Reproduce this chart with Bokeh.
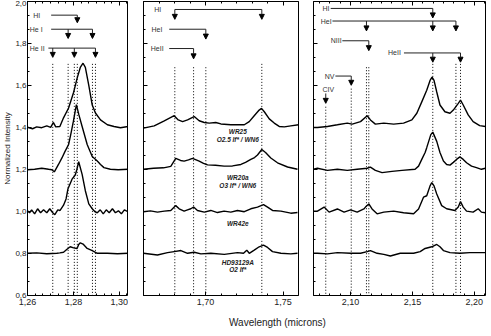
from bokeh.plotting import figure
from bokeh.models import (ColumnDataSource, Arrow, NormalHead, LinearAxis, FixedTicker,
                          CustomJSTickFormatter, Range1d, Div)
from bokeh.layouts import row, column
from bokeh.core.properties import value
from bokeh.embed import file_html
from bokeh.resources import INLINE

FONT = "Liberation Sans"

# ---------------- data ----------------
y_ticks = [0.6, 0.8, 1.0, 1.2, 1.4, 1.6, 1.8, 2.0]
p1_xticks = [1.26, 1.28, 1.30]
p2_xticks = [1.70, 1.75]
p3_xticks = [2.10, 2.15, 2.20]

# Panel 1 (Pa-beta region)
p1_wr25_wl = [1.2600, 1.2622, 1.2640, 1.2662, 1.2684, 1.2701, 1.2713, 1.2723, 1.2741, 1.2757, 1.2779, 1.2801,
              1.2816, 1.2830, 1.2842, 1.2852, 1.2867, 1.2882, 1.2896, 1.2918, 1.2948, 1.2977, 1.3005, 1.3040]
p1_wr25_fl = [1.401, 1.394, 1.403, 1.399, 1.408, 1.401, 1.424, 1.403, 1.405, 1.446, 1.493, 1.568,
              1.634, 1.686, 1.706, 1.686, 1.601, 1.507, 1.469, 1.436, 1.413, 1.405, 1.399, 1.405]
p1_wr20a_wl = [1.2600, 1.2631, 1.2662, 1.2692, 1.2706, 1.2717, 1.2735, 1.2750, 1.2763, 1.2779, 1.2789, 1.2800,
               1.2813, 1.2824, 1.2838, 1.2860, 1.2882, 1.2904, 1.2918, 1.2933, 1.2961, 1.2995, 1.3040]
p1_wr20a_fl = [1.199, 1.201, 1.206, 1.201, 1.199, 1.189, 1.224, 1.255, 1.285, 1.319, 1.370, 1.430,
               1.509, 1.460, 1.405, 1.319, 1.262, 1.240, 1.224, 1.209, 1.201, 1.199, 1.201]
p1_wr42e_wl = [1.2600, 1.2609, 1.2618, 1.2631, 1.2644, 1.2657, 1.2670, 1.2684, 1.2697, 1.2710, 1.2719, 1.2732,
               1.2742, 1.2757, 1.2768, 1.2776, 1.2794, 1.2808, 1.2815, 1.2823, 1.2838, 1.2852, 1.2867, 1.2882,
               1.2893, 1.2904, 1.2917, 1.2930, 1.2943, 1.2956, 1.2970, 1.2983, 1.2996, 1.3009, 1.3022, 1.3040]
p1_wr42e_fl = [1.003, 0.994, 1.008, 0.989, 1.013, 0.994, 1.008, 0.994, 1.013, 0.994, 0.985, 1.008,
               1.005, 1.030, 1.060, 1.107, 1.154, 1.174, 1.200, 1.237, 1.177, 1.099, 1.036, 1.013,
               1.000, 0.994, 1.008, 0.989, 1.008, 0.994, 1.013, 0.994, 1.003, 0.989, 1.008, 0.998]
p1_hd_wl = [1.2600, 1.2640, 1.2684, 1.2728, 1.2741, 1.2757, 1.2772, 1.2786, 1.2801, 1.2816, 1.2823, 1.2830,
            1.2842, 1.2860, 1.2882, 1.2904, 1.2948, 1.2992, 1.3040]
p1_hd_fl = [0.801, 0.803, 0.799, 0.801, 0.803, 0.806, 0.820, 0.832, 0.827, 0.824, 0.843, 0.851,
            0.845, 0.824, 0.814, 0.801, 0.801, 0.799, 0.801]

# Panel 2 (1.66-1.76 micron region)
p2_wr25_wl = [1.6600, 1.6669, 1.6734, 1.6798, 1.6824, 1.6852, 1.6884, 1.6927, 1.6959, 1.6992, 1.7024, 1.7066,
              1.7099, 1.7163, 1.7250, 1.7282, 1.7314, 1.7346, 1.7361, 1.7379, 1.7411, 1.7443, 1.7475, 1.7508,
              1.7550, 1.7600]
p2_wr25_fl = [1.397, 1.408, 1.432, 1.456, 1.436, 1.428, 1.436, 1.452, 1.432, 1.424, 1.421, 1.424,
              1.417, 1.413, 1.413, 1.428, 1.456, 1.483, 1.491, 1.475, 1.441, 1.421, 1.405, 1.403,
              1.408, 1.413]
p2_wr20a_wl = [1.6600, 1.6665, 1.6729, 1.6776, 1.6808, 1.6839, 1.6862, 1.6890, 1.6916, 1.6959, 1.6987, 1.7013,
               1.7064, 1.7120, 1.7174, 1.7228, 1.7258, 1.7292, 1.7316, 1.7335, 1.7363, 1.7387, 1.7421, 1.7464,
               1.7529, 1.7593]
p2_wr20a_fl = [1.201, 1.206, 1.208, 1.215, 1.253, 1.243, 1.240, 1.246, 1.253, 1.240, 1.229, 1.222,
               1.220, 1.216, 1.217, 1.224, 1.234, 1.248, 1.257, 1.269, 1.295, 1.281, 1.255, 1.232,
               1.212, 1.201]
p2_wr42e_wl = [1.6600, 1.6645, 1.6690, 1.6734, 1.6776, 1.6808, 1.6830, 1.6862, 1.6884, 1.6905, 1.6923, 1.6948,
               1.6992, 1.7034, 1.7077, 1.7120, 1.7163, 1.7206, 1.7250, 1.7292, 1.7335, 1.7374, 1.7400, 1.7432,
               1.7486, 1.7550, 1.7593]
p2_wr42e_fl = [0.999, 1.003, 0.997, 1.002, 1.005, 1.028, 1.013, 1.002, 1.008, 1.013, 1.021, 1.005,
               0.997, 1.005, 0.995, 1.002, 0.997, 1.005, 0.999, 1.013, 1.021, 1.033, 1.021, 1.005,
               1.002, 0.992, 0.995]
p2_hd_wl = [1.6600, 1.6690, 1.6755, 1.6798, 1.6841, 1.6884, 1.6927, 1.6970, 1.7034, 1.7121, 1.7206, 1.7245,
            1.7266, 1.7282, 1.7314, 1.7346, 1.7374, 1.7400, 1.7432, 1.7486, 1.7550, 1.7593]
p2_hd_fl = [0.801, 0.793, 0.804, 0.809, 0.814, 0.801, 0.806, 0.798, 0.801, 0.796, 0.804, 0.801,
            0.816, 0.801, 0.816, 0.832, 0.840, 0.829, 0.809, 0.801, 0.798, 0.801]

# Panel 3 (Br-gamma region)
p3_wr25_wl = [2.0700, 2.0732, 2.0812, 2.0893, 2.0973, 2.1013, 2.1080, 2.1134, 2.1160, 2.1200, 2.1268, 2.1348,
              2.1428, 2.1495, 2.1535, 2.1575, 2.1615, 2.1642, 2.1658, 2.1674, 2.1696, 2.1722, 2.1762, 2.1803,
              2.1830, 2.1870, 2.1888, 2.1910, 2.1950, 2.1990, 2.2043, 2.2089]
p3_wr25_fl = [1.400, 1.400, 1.405, 1.413, 1.421, 1.416, 1.428, 1.456, 1.436, 1.416, 1.421, 1.416,
              1.421, 1.436, 1.468, 1.522, 1.577, 1.624, 1.640, 1.624, 1.569, 1.507, 1.475, 1.468,
              1.483, 1.515, 1.530, 1.507, 1.460, 1.428, 1.409, 1.405]
p3_wr20a_wl = [2.0700, 2.0732, 2.0812, 2.0893, 2.0973, 2.1053, 2.1134, 2.1160, 2.1200, 2.1254, 2.1334, 2.1415,
               2.1521, 2.1549, 2.1575, 2.1602, 2.1615, 2.1631, 2.1648, 2.1664, 2.1696, 2.1722, 2.1750, 2.1776,
               2.1803, 2.1830, 2.1856, 2.1883, 2.1910, 2.1937, 2.1977, 2.2017, 2.2057, 2.2089]
p3_wr20a_fl = [1.201, 1.206, 1.196, 1.201, 1.196, 1.201, 1.206, 1.211, 1.196, 1.185, 1.191, 1.196,
               1.201, 1.216, 1.248, 1.281, 1.304, 1.334, 1.366, 1.378, 1.334, 1.281, 1.240, 1.224,
               1.221, 1.234, 1.248, 1.260, 1.248, 1.232, 1.216, 1.209, 1.201, 1.206]
p3_wr42e_wl = [2.0700, 2.0732, 2.0786, 2.0826, 2.0893, 2.0947, 2.1000, 2.1053, 2.1107, 2.1120, 2.1147, 2.1173,
               2.1214, 2.1268, 2.1348, 2.1428, 2.1509, 2.1549, 2.1589, 2.1615, 2.1642, 2.1656, 2.1674, 2.1696,
               2.1736, 2.1776, 2.1843, 2.1870, 2.1888, 2.1910, 2.1937, 2.1990, 2.2031, 2.2057, 2.2089]
p3_wr42e_fl = [1.002, 1.002, 1.021, 0.997, 1.012, 0.997, 1.008, 0.997, 1.012, 1.021, 1.036, 1.012,
               0.989, 0.997, 1.002, 0.994, 0.989, 1.012, 1.068, 1.075, 1.122, 1.138, 1.122, 1.083,
               1.028, 1.013, 1.005, 1.021, 1.047, 1.021, 1.002, 0.997, 1.013, 0.997, 0.994]
p3_hd_wl = [2.0700, 2.0732, 2.0812, 2.0893, 2.1000, 2.1080, 2.1134, 2.1160, 2.1214, 2.1268, 2.1321, 2.1401,
            2.1509, 2.1562, 2.1602, 2.1656, 2.1696, 2.1722, 2.1750, 2.1803, 2.1883, 2.1963, 2.2089]
p3_hd_fl = [0.801, 0.801, 0.798, 0.804, 0.801, 0.801, 0.809, 0.814, 0.801, 0.796, 0.788, 0.801,
            0.801, 0.809, 0.824, 0.832, 0.843, 0.832, 0.814, 0.804, 0.801, 0.804, 0.804]

# Line identifications
p1_lbl = ["HI", "He I", "He II"]
p1_lbl_x = [1.2625, 1.2610, 1.2610]
p1_lbl_y = [1.935, 1.868, 1.778]
p1_bar_x0 = [1.2703, 1.2703, 1.2691]
p1_bar_x1 = [1.2817, 1.2883, 1.2896]
p1_bar_y = [1.935, 1.868, 1.778]
p1_arr_x = [1.2817, 1.2777, 1.2883, 1.2710, 1.2804, 1.2896]
p1_arr_y0 = [1.935, 1.868, 1.868, 1.778, 1.778, 1.778]
p1_arr_y1 = [1.899, 1.824, 1.824, 1.734, 1.734, 1.734]
p1_dot_x = [1.2710, 1.2777, 1.2804, 1.2817, 1.2883, 1.2896]
p1_dot_top = [1.703, 1.703, 1.703, 1.703, 1.703, 1.703]

p2_lbl = ["HI", "HeI", "HeII"]
p2_lbl_x = [1.6669, 1.6652, 1.6647]
p2_lbl_y = [1.962, 1.868, 1.776]
p2_bar_x0 = [1.6802, 1.6766, 1.6766]
p2_bar_x1 = [1.7363, 1.7002, 1.6923]
p2_bar_y = [1.962, 1.868, 1.776]
p2_arr_x = [1.6802, 1.7363, 1.7002, 1.6923]
p2_arr_y0 = [1.962, 1.962, 1.868, 1.776]
p2_arr_y1 = [1.915, 1.915, 1.821, 1.727]
p2_dot_x = [1.6802, 1.6923, 1.7002, 1.7363]
p2_dot_top = [1.687, 1.687, 1.687, 1.703]

p3_lbl = ["HI", "HeI", "NIII", "HeII", "NV", "CIV"]
p3_lbl_x = [2.0772, 2.0759, 2.0839, 2.1302, 2.0791, 2.0772]
p3_lbl_y = [1.967, 1.907, 1.813, 1.755, 1.645, 1.582]
p3_bar_x0 = [2.0839, 2.0853, 2.0933, 2.1431, 2.0877]
p3_bar_x1 = [2.1664, 2.1851, 2.1147, 2.1888, 2.1005]
p3_bar_y = [1.967, 1.907, 1.813, 1.755, 1.645]
p3_arr_x = [2.1664, 2.1128, 2.1664, 2.1851, 2.1147, 2.1664, 2.1888, 2.1005, 2.0799]
p3_arr_y0 = [1.967, 1.907, 1.907, 1.907, 1.813, 1.755, 1.755, 1.645, 1.562]
p3_arr_y1 = [1.922, 1.860, 1.860, 1.860, 1.766, 1.711, 1.711, 1.601, 1.515]
p3_dot_x = [2.0799, 2.1005, 2.1128, 2.1147, 2.1664, 2.1851, 2.1888]
p3_dot_top = [1.499, 1.585, 1.687, 1.687, 1.703, 1.703, 1.703]

star_names = ["WR25", "O2.5 If* / WN6", "WR20a", "O3 If* / WN6", "WR42e", "HD93129A", "O2 If*"]
star_x = [1.7208, 1.7208, 1.7208, 1.7208, 1.7208, 1.7208, 1.7208]
star_y = [1.381, 1.341, 1.162, 1.122, 0.942, 0.757, 0.722]


def minor_between(major, n, lo, hi):
    step = (major[1] - major[0]) / n
    out = []
    t = major[0]
    while t - step >= lo - 1e-9:
        t -= step
    while t <= hi + 1e-9:
        out.append(round(t, 6))
        t += step
    return out


def hide_labels(ax):
    ax.formatter = CustomJSTickFormatter(code="return '';")
    ax.major_label_text_color = None
    ax.major_label_text_font_size = "1px"
    ax.major_label_standoff = 0


def make_panel(fw, xr, xticks, nminor, show_y, mbl, mbr):
    p = figure(frame_width=fw, frame_height=294, x_range=Range1d(*xr), y_range=Range1d(0.6, 2.0),
               output_backend="svg", toolbar_location=None,
               min_border_left=mbl, min_border_right=mbr, min_border_top=1, min_border_bottom=14)
    p.background_fill_color = "white"
    p.border_fill_color = "white"
    p.outline_line_color = "black"
    p.outline_line_width = 1
    p.xgrid.visible = False
    p.ygrid.visible = False
    xt = FixedTicker(ticks=xticks, minor_ticks=minor_between(xticks, nminor, xr[0], xr[1]))
    yt = FixedTicker(ticks=y_ticks, minor_ticks=minor_between(y_ticks, 3, 0.6, 2.0))
    bottom = p.below[0]
    left = p.left[0]
    bottom.ticker = xt
    left.ticker = yt
    bottom.formatter = CustomJSTickFormatter(code="return tick.toFixed(2).replace('.', ',');")
    left.formatter = CustomJSTickFormatter(code="return tick.toFixed(1).replace('.', ',');")
    top = LinearAxis(ticker=xt)
    hide_labels(top)
    p.add_layout(top, "above")
    for ax in (bottom, left, top):
        ax.axis_line_color = None
        ax.major_tick_in = 4
        ax.major_tick_out = 0
        ax.minor_tick_in = 2
        ax.minor_tick_out = 0
        ax.major_tick_line_color = "black"
        ax.minor_tick_line_color = "black"
        ax.major_label_text_font = FONT
    bottom.major_label_text_color = "#222222"
    bottom.major_label_text_font_size = "9px"
    bottom.major_label_standoff = 3
    if show_y:
        left.major_label_text_color = "#222222"
        left.major_label_text_font_size = "8px"
        left.major_label_standoff = 1
        left.axis_label = "Normalized Intensity"
        left.axis_label_text_font = FONT
        left.axis_label_text_font_size = "8px"
        left.axis_label_text_font_style = "normal"
        left.axis_label_standoff = 0
        left.axis_label_text_color = "#222222"
    else:
        hide_labels(left)
    return p


def decorate(p, spectra, dot_x, dot_top, lbl, lx, ly, bx0, bx1, by, ax, ay0, ay1):
    p.segment(x0=dot_x, y0=dot_top, x1=dot_x, y1=[0.6] * len(dot_x), line_color="black",
              line_width=1, line_dash="1 2")
    for wl, fl in spectra:
        p.line(wl, fl, line_color="black", line_width=1.4)
    p.segment(x0=bx0, y0=by, x1=bx1, y1=by, line_color="#222222", line_width=1)
    src = ColumnDataSource(dict(x=ax, y0=ay0, y1=ay1))
    p.add_layout(Arrow(end=NormalHead(size=5, fill_color="black", line_color="black", line_width=1),
                       x_start="x", y_start="y0", x_end="x", y_end="y1", source=src,
                       line_color="#222222", line_width=1))
    p.text(x=lx, y=ly, text=lbl, text_font=value(FONT), text_font_size="7px",
           text_align="left", text_baseline="middle", text_color="#333333")


p1 = make_panel(101, (1.26, 1.304), p1_xticks, 6, True, 22, 0)
decorate(p1, [(p1_wr25_wl, p1_wr25_fl), (p1_wr20a_wl, p1_wr20a_fl), (p1_wr42e_wl, p1_wr42e_fl),
              (p1_hd_wl, p1_hd_fl)],
         p1_dot_x, p1_dot_top, p1_lbl, p1_lbl_x, p1_lbl_y, p1_bar_x0, p1_bar_x1, p1_bar_y,
         p1_arr_x, p1_arr_y0, p1_arr_y1)

p2 = make_panel(156, (1.66, 1.7606), p2_xticks, 5, False, 15, 0)
decorate(p2, [(p2_wr25_wl, p2_wr25_fl), (p2_wr20a_wl, p2_wr20a_fl), (p2_wr42e_wl, p2_wr42e_fl),
              (p2_hd_wl, p2_hd_fl)],
         p2_dot_x, p2_dot_top, p2_lbl, p2_lbl_x, p2_lbl_y, p2_bar_x0, p2_bar_x1, p2_bar_y,
         p2_arr_x, p2_arr_y0, p2_arr_y1)
p2.text(x=star_x, y=star_y, text=star_names, text_font=value(FONT), text_font_size="6.5px",
        text_font_style="bold italic", text_align="center", text_baseline="middle",
        text_color="#222222")

p3 = make_panel(172, (2.07, 2.209), p3_xticks, 6, False, 14, 1)
decorate(p3, [(p3_wr25_wl, p3_wr25_fl), (p3_wr20a_wl, p3_wr20a_fl), (p3_wr42e_wl, p3_wr42e_fl),
              (p3_hd_wl, p3_hd_fl)],
         p3_dot_x, p3_dot_top, p3_lbl, p3_lbl_x, p3_lbl_y, p3_bar_x0, p3_bar_x1, p3_bar_y,
         p3_arr_x, p3_arr_y0, p3_arr_y1)

xlabel = Div(text='<div style="margin-left:224px;font-family:\'Liberation Sans\';font-size:10px;'
                  'color:#222;line-height:11px;white-space:nowrap;">Wavelength (microns)</div>',
             width=470, height=11)

layout = column(row(p1, p2, p3), xlabel)
open("out.html", "w").write(file_html(layout, INLINE))
